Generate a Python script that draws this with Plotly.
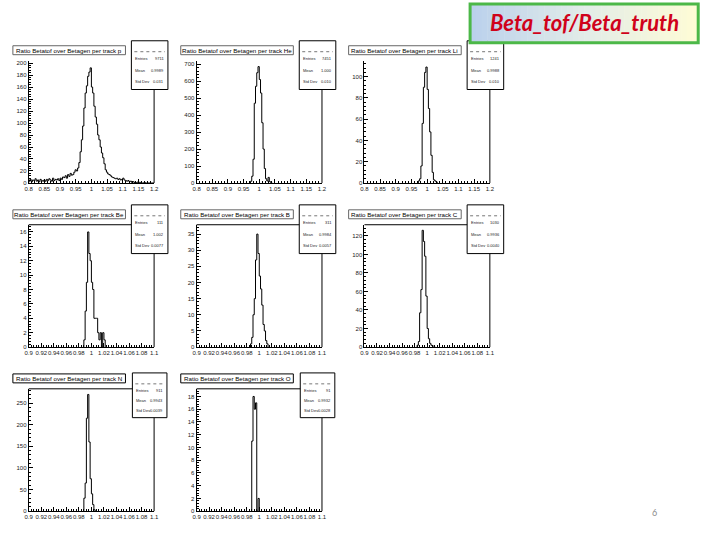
import plotly.graph_objects as go

W, H = 720, 540

# histogram contents: lower edge of first bin, bin width, counts per bin
P_START, P_WIDTH = 0.80, 0.004
P_COUNTS = [
    3, 6, 2, 5, 4, 7, 3, 5, 2, 6, 4, 3,
    5, 3, 6, 4, 7, 5, 3, 8, 4, 6, 5, 7, 4,
    8, 6, 10, 9, 12, 8, 14, 11, 16, 13,
    14, 18, 22, 20, 25,
    34, 52, 72, 95, 125,
    150, 162, 178, 185, 192,
    160, 150, 128, 110, 98,
    80, 72, 60, 50, 42,
    32, 22, 18, 15, 14,
    12, 10, 9, 8, 7,
    8, 6, 7, 5, 6,
    8, 5, 4, 3, 4,
    2, 3, 1, 2, 1, 0, 1, 2, 0, 1, 0, 0, 1, 0, 0, 0, 0, 0, 0, 0,
]
HE_START, HE_WIDTH = 0.972, 0.004
HE_COUNTS = [10, 40, 140, 470, 570, 650, 686, 610, 530, 355, 200, 85, 25, 12, 33, 8, 3]
LI_START, LI_WIDTH = 0.972, 0.004
LI_COUNTS = [2, 4, 16, 56, 90, 104, 109, 88, 70, 48, 26, 10, 3, 2, 1]
BE_START, BE_WIDTH = 0.988, 0.002
BE_COUNTS = [1, 5, 9, 16, 13, 12, 9, 8, 4, 4, 4, 2, 1, 2, 0, 2, 1]
B_START, B_WIDTH = 0.986, 0.002
B_COUNTS = [1, 3, 10, 15, 27, 35, 29, 22, 18, 13, 7, 5, 2, 1]
C_START, C_WIDTH = 0.984, 0.002
C_COUNTS = [2, 6, 37, 62, 126, 114, 98, 55, 20, 9, 4, 2, 1, 1]
N_START, N_WIDTH = 0.988, 0.002
N_COUNTS = [30, 65, 215, 270, 160, 75, 40, 15, 3]
O_START, O_WIDTH = 0.988, 0.002
O_COUNTS = [11, 18, 16, 17, 0, 2]

PARTICLES = ["p", "He", "Li", "Be", "B", "C", "N", "O"]
ENTRIES = ["9711", "7451", "1241", "111", "311", "1030", "911", "91"]
MEANS = ["0.9989", "1.000", "0.9988", "1.002", "0.9984", "0.9936", "0.9943", "0.9932"]
STDDEVS = ["0.031", "0.010", "0.010", "0.0077", "0.0057", "0.0040", "0.0039", "0.0028"]

HISTS = [
    (P_START, P_WIDTH, P_COUNTS),
    (HE_START, HE_WIDTH, HE_COUNTS),
    (LI_START, LI_WIDTH, LI_COUNTS),
    (BE_START, BE_WIDTH, BE_COUNTS),
    (B_START, B_WIDTH, B_COUNTS),
    (C_START, C_WIDTH, C_COUNTS),
    (N_START, N_WIDTH, N_COUNTS),
    (O_START, O_WIDTH, O_COUNTS),
]

# axis settings per pad: x range, x dtick, y max, y dtick
AXES = [
    ((0.8, 1.2), 0.05, 204, 20),
    ((0.8, 1.2), 0.05, 721, 100),
    ((0.8, 1.2), 0.05, 115, 20),
    ((0.9, 1.1), 0.02, 17.0, 2),
    ((0.9, 1.1), 0.02, 37.9, 5),
    ((0.9, 1.1), 0.02, 132, 20),
    ((0.9, 1.1), 0.02, 283, 50),
    ((0.9, 1.1), 0.02, 19.2, 2),
]

ROOT_FONT = "Liberation Sans"


def px(x):
    return x / W


def py(y):
    return 1 - y / H


def note(x, y, text, size, color="black", family=ROOT_FONT, xanchor="center"):
    return dict(x=px(x), y=py(y), xref="paper", yref="paper", text=text,
                xanchor=xanchor, yanchor="middle", showarrow=False,
                font=dict(family=family, size=size, color=color))


fig = go.Figure()
shapes = []
annotations = []

for i, (start, width, counts) in enumerate(HISTS):
    n = i + 1
    row, col = divmod(i, 3)
    ox, oy = 170 * col, 40 + 165 * row
    (x0, x1), xdt, ymax, ydt = AXES[i]

    edges = [start + k * width for k in range(len(counts) + 1)]
    xs = [edges[0]] + edges
    ys = [0] + list(counts) + [0]
    fig.add_trace(
        go.Scatter(
            x=xs, y=ys, mode="lines", line=dict(color="black", width=1, shape="hv"),
            xaxis=f"x{n}", yaxis=f"y{n}", showlegend=False, hoverinfo="skip",
        )
    )

    fl, fr, ft, fb = ox + 25, ox + 152, oy + 21, oy + 144
    axis_common = dict(
        showgrid=False, zeroline=False, showline=True, linecolor="black", linewidth=1,
        ticks="inside", ticklen=4, tickcolor="black", tickangle=0,
        tickfont=dict(family=ROOT_FONT, size=6, color="#222"),
    )
    fig.update_layout(
        {
            f"xaxis{n}": dict(
                axis_common, domain=[px(fl), px(fr)], anchor=f"y{n}", range=[x0, x1],
                tick0=x0, dtick=xdt,
                minor=dict(ticks="inside", ticklen=2, dtick=xdt / 5, tickcolor="black"),
            ),
            f"yaxis{n}": dict(
                axis_common, domain=[py(fb), py(ft)], anchor=f"x{n}", range=[0, ymax],
                tick0=0, dtick=ydt,
                minor=dict(ticks="inside", ticklen=2, dtick=ydt / 5, tickcolor="black"),
            ),
        }
    )

    # frame edges
    shapes.append(dict(type="line", xref="paper", yref="paper", x0=px(fr), x1=px(fr),
                       y0=py(fb), y1=py(ft), line=dict(color="black", width=1)))
    if row > 0:
        shapes.append(dict(type="line", xref="paper", yref="paper", x0=px(fl), x1=px(fr),
                           y0=py(ft), y1=py(ft), line=dict(color="black", width=1)))

    # title box
    tb_col = "black" if row == 2 else "#666"
    shapes.append(dict(type="rect", xref="paper", yref="paper", x0=px(ox + 9), x1=px(ox + 123),
                       y0=py(oy + 15), y1=py(oy + 6), fillcolor="white",
                       line=dict(color=tb_col, width=1)))
    annotations.append(note(ox + 66, oy + 10.5,
                            f"Ratio Betatof over Betagen per track {PARTICLES[i]}", 6.2))

    # stats box
    if row < 2:
        sl, sr, st, sb = ox + 129, ox + 166, oy + 1, oy + 50
    else:
        sl, sr, st, sb = ox + 130, ox + 165, oy + 5, oy + 50
    shapes.append(dict(type="rect", xref="paper", yref="paper", x0=px(sl), x1=px(sr),
                       y0=py(sb), y1=py(st), fillcolor="white",
                       line=dict(color="black", width=1)))
    shapes.append(dict(type="line", xref="paper", yref="paper", x0=px(sl + 3), x1=px(sr - 3),
                       y0=py(st + 11), y1=py(st + 11),
                       line=dict(color="#777", width=1, dash="dot")))
    rows = [("Entries", ENTRIES[i]), ("Mean", MEANS[i]), ("Std Dev", STDDEVS[i])]
    step = (sb - st - 14) / 3
    for k, (lab, val) in enumerate(rows):
        yy = st + 11 + step * (k + 0.6)
        annotations.append(note(sl + 2, yy, lab, 4, "#222", xanchor="left"))
        annotations.append(note(sr - 2, yy, val, 4, "#222", xanchor="right"))

# slide title box with a blue-to-yellow gradient
bx0, bx1, by0, by1 = 472, 703, 4, 43
strips = 40
c_left, c_mid, c_right = (186, 208, 236), (226, 236, 232), (255, 252, 214)
for s in range(strips):
    t = (s + 0.5) / strips
    if t < 0.5:
        a, b, f = c_left, c_mid, t / 0.5
    else:
        a, b, f = c_mid, c_right, (t - 0.5) / 0.5
    rgb = tuple(round(a[j] + (b[j] - a[j]) * f) for j in range(3))
    sx0 = bx0 + (bx1 - bx0) * s / strips
    sx1 = bx0 + (bx1 - bx0) * (s + 1) / strips + 0.5
    shapes.append(dict(type="rect", xref="paper", yref="paper", x0=px(sx0), x1=px(sx1),
                       y0=py(by1), y1=py(by0), fillcolor="rgb(%d,%d,%d)" % rgb,
                       line=dict(width=0), layer="above"))
shapes.append(dict(type="rect", xref="paper", yref="paper", x0=px(bx0), x1=px(bx1),
                   y0=py(by1), y1=py(by0), line=dict(color="#4cb848", width=3),
                   layer="above"))
annotations.append(note(588, 23, "<b><i>Beta_tof/Beta_truth</i></b>", 22,
                        "#d0021b", family="Lato"))

annotations.append(note(659, 515, "6", 9, "#8c8c8c", family="Lato"))

fig.update_layout(
    width=W, height=H, margin=dict(l=0, r=0, t=0, b=0),
    paper_bgcolor="white", plot_bgcolor="white",
    shapes=shapes, annotations=annotations,
)

fig.write_html("out.html", config={"displayModeBar": False},
               post_script="document.body.style.margin='0px';")
